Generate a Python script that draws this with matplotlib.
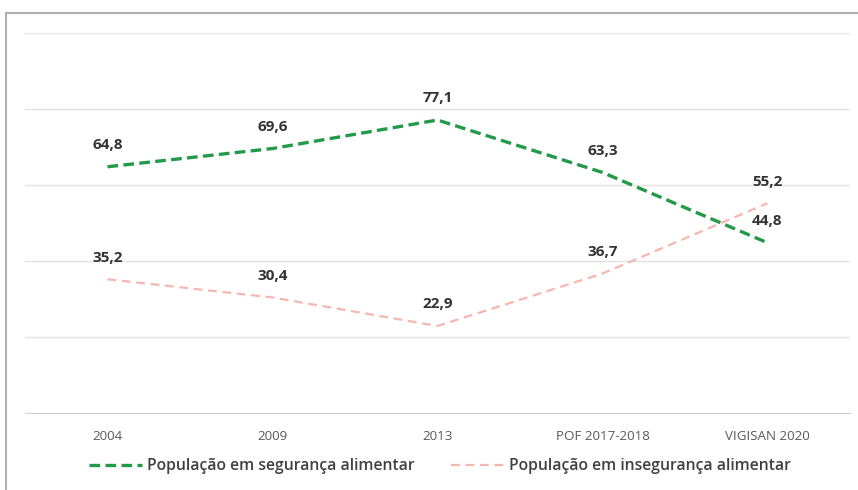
import matplotlib
matplotlib.use("Agg")
import matplotlib.pyplot as plt
from matplotlib.patches import Rectangle

categories = ["2004", "2009", "2013", "POF 2017-2018", "VIGISAN 2020"]
seguranca = [64.8, 69.6, 77.1, 63.3, 44.8]
inseguranca = [35.2, 30.4, 22.9, 36.7, 55.2]
label_seg = "População em segurança alimentar"
label_inseg = "População em insegurança alimentar"

plt.rcParams['font.family'] = ['Open Sans', 'DejaVu Sans']

fig = plt.figure(figsize=(8.58, 4.9), dpi=100)
ax = fig.add_axes([25/858, 1-413/490, 825/858, (413-33)/490])

x = list(range(len(categories)))
green = "#23994a"
pink = "#f5b7ae"
ax.plot(x, seguranca, color=green, lw=2.4, ls=(0, (3.2, 1.6)), label=label_seg, zorder=3)
ax.plot(x, inseguranca, color=pink, lw=1.6, ls=(0, (4, 2.5)), label=label_inseg, zorder=3)

for xi, v in zip(x, seguranca):
    ax.annotate(f"{v:.1f}".replace(".", ","), (xi, v), xytext=(0, 15.5), textcoords="offset points",
                ha="center", va="center", fontsize=11, fontweight="bold", color="#333333")
for xi, v in zip(x, inseguranca):
    ax.annotate(f"{v:.1f}".replace(".", ","), (xi, v), xytext=(0, 15.5), textcoords="offset points",
                ha="center", va="center", fontsize=11, fontweight="bold", color="#333333")

ax.set_xlim(-0.5, len(categories) - 0.5)
ax.set_ylim(0, 100)
ax.set_yticks([20, 40, 60, 80, 100])
ax.yaxis.grid(True, color="#e3e3e3", lw=1)
ax.set_axisbelow(True)
ax.tick_params(axis="y", length=0, labelleft=False)
ax.set_xticks(x)
ax.set_xticklabels(categories, fontsize=9.6, color="#595959")
ax.tick_params(axis="x", length=0, pad=12.5)
for s in ["top", "right", "left"]:
    ax.spines[s].set_visible(False)
ax.spines["bottom"].set_color("#cfcfcf")

fig.legend(loc="center", bbox_to_anchor=(440/858, 1-466/490), ncol=2, frameon=False,
           prop={'family': ['Open Sans', 'DejaVu Sans'], 'size': 11.3, 'weight': 'semibold'},
           handlelength=3.4, columnspacing=2.3, handletextpad=0.3,
           labelcolor="#404040")

fig.patches.append(Rectangle((6/858, -0.1), 1.0, 1-13/490+0.1, transform=fig.transFigure,
                             fill=False, edgecolor="#b0b0b0", lw=1.5))

fig.savefig("out.png", dpi=100)
